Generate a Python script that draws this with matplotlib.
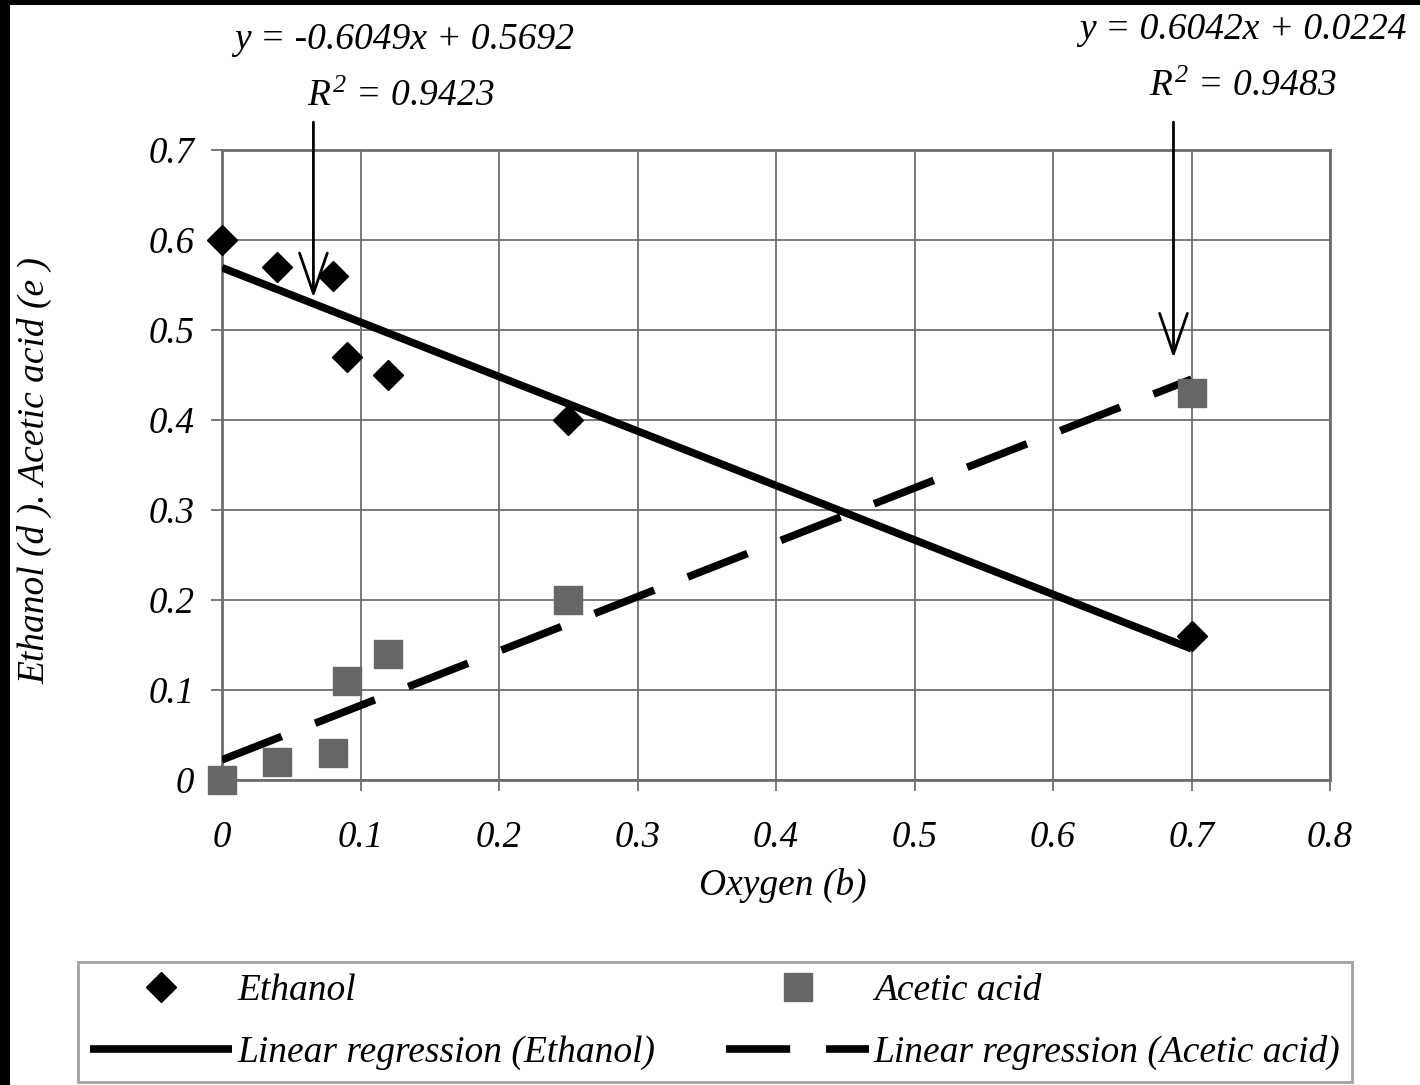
import matplotlib
matplotlib.use('Agg')
import matplotlib.pyplot as plt
import matplotlib.ticker as mticker
from matplotlib.lines import Line2D
from matplotlib.patches import Rectangle

plt.rcParams['font.family'] = ['Liberation Serif', 'DejaVu Serif']
plt.rcParams['font.style'] = 'italic'
plt.rcParams['mathtext.fontset'] = 'custom'
plt.rcParams['mathtext.it'] = 'Liberation Serif:italic'
plt.rcParams['mathtext.rm'] = 'Liberation Serif:italic'

# --- data ---
oxygen = [0.0, 0.04, 0.08, 0.09, 0.12, 0.25, 0.70]
ethanol = [0.60, 0.57, 0.56, 0.47, 0.45, 0.40, 0.16]
acetic = [0.00, 0.02, 0.03, 0.11, 0.14, 0.20, 0.43]

fit_x = [0.0, 0.70]
eth_slope, eth_icpt, eth_r2 = -0.6049, 0.5692, 0.9423
ace_slope, ace_icpt, ace_r2 = 0.6042, 0.0224, 0.9483

x_ticks = [0, 0.1, 0.2, 0.3, 0.4, 0.5, 0.6, 0.7, 0.8]
y_ticks = [0, 0.1, 0.2, 0.3, 0.4, 0.5, 0.6, 0.7]

W, H = 1420, 1085
fig = plt.figure(figsize=(W / 100, H / 100), dpi=100)
fig.patch.set_facecolor('white')

# black scan border (top and left)
fig.patches.append(Rectangle((0, 1 - 5 / H), 1, 5 / H, transform=fig.transFigure,
                             facecolor='black', edgecolor='none', zorder=0))
fig.patches.append(Rectangle((0, 0), 10 / W, 1, transform=fig.transFigure,
                             facecolor='black', edgecolor='none', zorder=0))

ax = fig.add_axes([222 / W, (H - 780) / H, 1108 / W, 630 / H])
ax.set_xlim(0, 0.8)
ax.set_ylim(0, 0.7)
ax.set_xticks(x_ticks)
ax.set_yticks(y_ticks)
ax.xaxis.set_major_formatter(mticker.FuncFormatter(lambda v, _: f'{v:g}'))
ax.yaxis.set_major_formatter(mticker.FuncFormatter(lambda v, _: f'{v:g}'))
ax.grid(True, color='#6e6e6e', linewidth=1.3)
ax.set_axisbelow(True)
for s in ax.spines.values():
    s.set_color('#6e6e6e')
    s.set_linewidth(2)
ax.tick_params(axis='both', direction='out', length=8, width=1.3, color='#6e6e6e',
               labelsize=26.5)
ax.tick_params(axis='x', pad=21)
ax.tick_params(axis='y', pad=12)

eth_fit = [eth_slope * v + eth_icpt for v in fit_x]
ace_fit = [ace_slope * v + ace_icpt for v in fit_x]
DASH = (8.4, 4.7)

ax.plot(fit_x, eth_fit, color='black', linewidth=5.5, solid_capstyle='butt', zorder=3)
ax.plot(fit_x, ace_fit, color='black', linewidth=5.5, dashes=DASH,
        dash_capstyle='butt', zorder=3)
ax.plot(oxygen, ethanol, linestyle='none', marker='D', markersize=15.5,
        color='black', clip_on=False, zorder=4)
ax.plot(oxygen, acetic, linestyle='none', marker='s', markersize=20,
        color='#666666', clip_on=False, zorder=4)

fig.text(783 / W, 1 - 885 / H, 'Oxygen (b)', fontsize=27, ha='center', va='center')
fig.text(35 / W, 1 - 470 / H, 'Ethanol (d ). Acetic acid (e )', fontsize=27,
         rotation=90, ha='center', va='center')

# equation labels with arrows
arrow_kw = dict(arrowstyle='->,head_length=2.9,head_width=1.0', color='black', lw=2,
                shrinkA=0, shrinkB=0)
ax.annotate('', xy=(0.066, 0.536), xytext=(0.066, 0.731), xycoords='data',
            arrowprops=arrow_kw, annotation_clip=False)
ax.annotate('', xy=(0.687, 0.469), xytext=(0.687, 0.731), xycoords='data',
            arrowprops=arrow_kw, annotation_clip=False)

fig.text(404 / W, 1 - 40 / H, f'y = {eth_slope}x + {eth_icpt}', fontsize=27,
         ha='center', va='center')
fig.text(401 / W, 1 - 97 / H, f'$R^2$ = {eth_r2}', fontsize=27,
         ha='center', va='center')
fig.text(1243 / W, 1 - 30 / H, f'y = {ace_slope}x + {ace_icpt}', fontsize=27,
         ha='center', va='center')
fig.text(1243 / W, 1 - 87 / H, f'$R^2$ = {ace_r2}', fontsize=27,
         ha='center', va='center')

handles = [
    Line2D([], [], linestyle='none', marker='D', markersize=15.5, color='black'),
    Line2D([], [], color='black', linewidth=5.5, solid_capstyle='butt'),
    Line2D([], [], linestyle='none', marker='s', markersize=20, color='#666666'),
    Line2D([], [], color='black', linewidth=5.5, dashes=DASH, dash_capstyle='butt'),
]
labels = ['Ethanol', 'Linear regression (Ethanol)', 'Acetic acid',
          'Linear regression (Acetic acid)']
leg = fig.legend(handles, labels, loc='lower left',
                 bbox_to_anchor=(78 / W, (H - 1082) / H, 1274 / W, 120 / H),
                 mode='expand', ncol=2, fontsize=27, handlelength=3.8,
                 handletextpad=0.13, columnspacing=1.7, borderaxespad=0,
                 frameon=True, fancybox=False, labelspacing=0.72, borderpad=0.31)
leg.get_frame().set_edgecolor('#8a8a8a')
leg.get_frame().set_linewidth(2)

fig.savefig('out.png', dpi=100)
